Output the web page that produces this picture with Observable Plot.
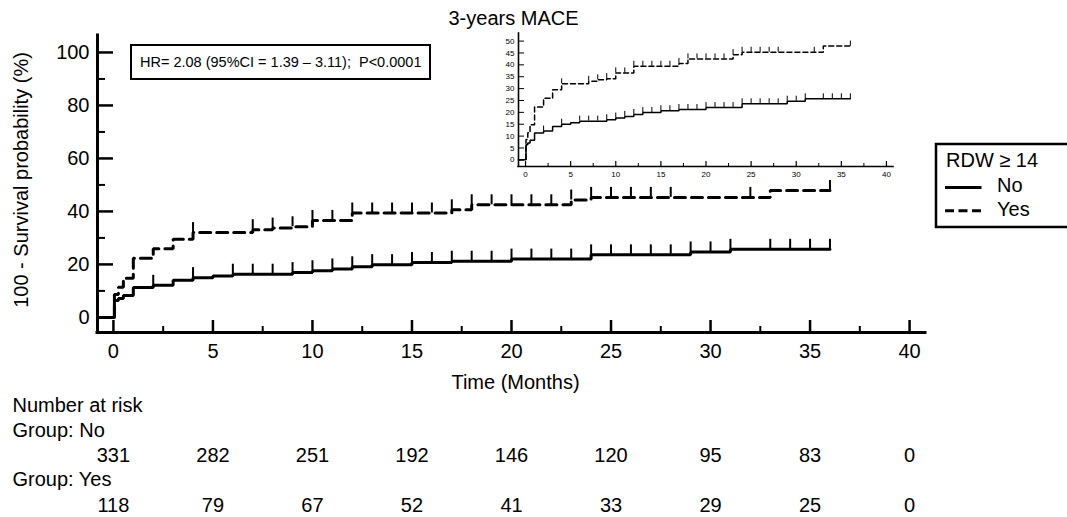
<!DOCTYPE html>
<html>
<head>
<meta charset="utf-8">
<script src="https://cdn.jsdelivr.net/npm/d3@7"></script>
<script src="https://cdn.jsdelivr.net/npm/@observablehq/plot@0.6"></script>
<style>
html, body { margin: 0; padding: 0; background: #fff; }
#wrap { position: relative; width: 1067px; height: 517px; overflow: hidden; background: #fff;
        font-family: "Liberation Sans", Arial, sans-serif; color: #000; }
#wrap svg { position: absolute; }
</style>
</head>
<body>
<div id="wrap"></div>
<script>
// ---------------- data ----------------
const title = "3-years MACE";
const yLabel = "100 - Survival probability (%)";
const xLabel = "Time (Months)";
const hrText = "HR= 2.08 (95%CI = 1.39 \u2013 3.11);  P<0.0001";
const legendTitle = "RDW \u2265 14";
const groups = ["No", "Yes"];

// Group "No" (solid): step times and cumulative event rate (100 - survival, %)
const timesNo  = [0, 0.05, 0.25, 0.5, 1, 2, 3, 4, 5, 6, 9, 10, 11, 12, 13, 15, 17, 20, 24, 29, 31, 36];
const valuesNo = [0, 6.4, 7.1, 8.3, 11.3, 12.1, 14.0, 15.0, 15.6, 16.3, 16.9, 17.6, 18.3, 19.1, 19.9, 20.7, 21.2, 22.0, 23.6, 24.7, 25.7, 25.7];
const censorNo = [2, 4, 6, 7, 8, 9, 10, 11, 12, 13, 14, 15, 16, 17, 18, 19, 20, 21, 22, 23, 24, 25, 26, 27, 28, 29, 30, 31, 33, 34, 35, 36];

// Group "Yes" (dashed)
const timesYes  = [0, 0.05, 0.25, 0.5, 1, 2, 3, 4, 7, 8, 9, 10, 12, 17, 18, 23, 24, 33, 36];
const valuesYes = [0, 8.6, 11.4, 14.8, 22.3, 25.9, 29.5, 32.0, 33.1, 33.7, 34.2, 36.6, 39.4, 40.6, 42.5, 44.3, 45.3, 47.9, 47.9];
const censorYes = [4, 7, 8, 9, 10, 11, 12, 13, 14, 15, 16, 17, 18, 19, 20, 21, 22, 23, 24, 25, 26, 27, 28, 32, 36];

// axes
const xTicks = [0, 5, 10, 15, 20, 25, 30, 35, 40];
const xMinorTicks = [2.5, 7.5, 12.5, 17.5, 22.5, 27.5, 32.5, 37.5];
const yTicks = [0, 20, 40, 60, 80, 100];
const yMinorTicks = [10, 30, 50, 70, 90];
const insetXTicks = [0, 5, 10, 15, 20, 25, 30, 35, 40];
const insetXMinorTicks = [2.5, 7.5, 12.5, 17.5, 22.5, 27.5, 32.5, 37.5];
const insetYTicks = [0, 5, 10, 15, 20, 25, 30, 35, 40, 45, 50];

// number at risk
const riskHeader = "Number at risk";
const riskLabels = ["Group: No", "Group: Yes"];
const riskTimes = [0, 5, 10, 15, 20, 25, 30, 35, 40];
const riskNo  = [331, 282, 251, 192, 146, 120, 95, 83, 0];
const riskYes = [118, 79, 67, 52, 41, 33, 29, 25, 0];

// ---------------- layout ----------------
const W = 1067, H = 517;
const FONT = '"Liberation Sans", Arial, sans-serif';
const main = {left: 97, right: 925, top: 35, bottom: 332};
const xDom = [-0.8, 40.8], yDom = [-5.7, 106.4];
const kx = (main.right - main.left) / (xDom[1] - xDom[0]);
const ky = (main.bottom - main.top) / (yDom[1] - yDom[0]);

const inset = {boxLeft: 490, boxTop: 20, boxW: 410, boxH: 165, left: 518, right: 893, top: 33, bottom: 166};
const ixDom = [-0.78, 40.78], iyDom = [-2.8, 53.2];
const ikx = (inset.right - inset.left) / (ixDom[1] - ixDom[0]);
const iky = (inset.bottom - inset.top) / (iyDom[1] - iyDom[0]);

function curveData(times, values, x0) {
  return [{t: x0, v: values[0]}].concat(times.map((t, i) => ({t, v: values[i]})));
}
function stepAt(times, values, t) {
  const i = d3.bisectRight(times, t) - 1;
  return values[Math.max(0, i)];
}
function censorData(times, values, cs) {
  return cs.map(t => ({t, v: stepAt(times, values, t)}));
}

const wrap = document.getElementById("wrap");

// ---------------- main plot ----------------
const noMain = curveData(timesNo, valuesNo, xDom[0]);
const yesMain = curveData(timesYes, valuesYes, xDom[0]);
const cNo = censorData(timesNo, valuesNo, censorNo);
const cYes = censorData(timesYes, valuesYes, censorYes);

const mainPlot = Plot.plot({
  width: W, height: H,
  marginLeft: main.left, marginRight: W - main.right, marginTop: main.top, marginBottom: H - main.bottom,
  x: {domain: xDom},
  y: {domain: yDom},
  style: {background: "transparent", fontFamily: FONT, color: "#000", overflow: "visible"},
  marks: [
    // axis lines
    Plot.ruleY([yDom[0]], {x1: xDom[0], x2: xDom[1], stroke: "#000", strokeWidth: 3, strokeLinecap: "square"}),
    Plot.ruleX([xDom[0]], {y1: yDom[0], y2: yDom[1], stroke: "#000", strokeWidth: 3, strokeLinecap: "square"}),
    // inward ticks
    Plot.ruleY(yTicks, {y: d => d, x1: xDom[0], x2: xDom[0] + 16 / kx, stroke: "#000", strokeWidth: 2.5}),
    Plot.ruleY(yMinorTicks, {y: d => d, x1: xDom[0], x2: xDom[0] + 8 / kx, stroke: "#000", strokeWidth: 2}),
    Plot.ruleX(xTicks, {x: d => d, y1: yDom[0], y2: yDom[0] + 12 / ky, stroke: "#000", strokeWidth: 2.5}),
    Plot.ruleX(xMinorTicks, {x: d => d, y1: yDom[0], y2: yDom[0] + 6 / ky, stroke: "#000", strokeWidth: 2}),
    // tick labels
    Plot.axisX({ticks: xTicks, tickSize: 0, tickPadding: 11, fontSize: 20, label: null}),
    Plot.axisY({ticks: yTicks, tickSize: 0, tickPadding: 8, fontSize: 20, label: null}),
    // curves
    Plot.line(noMain, {x: "t", y: "v", curve: "step-after", stroke: "#000", strokeWidth: 3, strokeLinejoin: "miter"}),
    Plot.line(yesMain, {x: "t", y: "v", curve: "step-after", stroke: "#000", strokeWidth: 3, strokeDasharray: "11,6", strokeLinejoin: "miter"}),
    // censor marks
    Plot.ruleX(cNo, {x: "t", y1: "v", y2: d => d.v + 10 / ky, stroke: "#000", strokeWidth: 2}),
    Plot.ruleX(cYes, {x: "t", y1: "v", y2: d => d.v + 10 / ky, stroke: "#000", strokeWidth: 2}),
    // titles
    Plot.text([title], {text: d => d, frameAnchor: "top", textAnchor: "middle", lineAnchor: "bottom", dx: 2, dy: -11, fontSize: 20}),
    Plot.text([xLabel], {text: d => d, frameAnchor: "bottom", textAnchor: "middle", lineAnchor: "bottom", dx: 4, dy: 56, fontSize: 20}),
    Plot.text([yLabel], {text: d => d, frameAnchor: "left", textAnchor: "middle", rotate: -90, lineAnchor: "middle", dx: -76, dy: -4, fontSize: 20}),
    // number at risk table
    Plot.text([riskHeader], {text: d => d, frameAnchor: "bottom-left", textAnchor: "start", lineAnchor: "bottom", dx: -85, dy: 79.5, fontSize: 20}),
    Plot.text([riskLabels[0]], {text: d => d, frameAnchor: "bottom-left", textAnchor: "start", lineAnchor: "bottom", dx: -85, dy: 104, fontSize: 20}),
    Plot.text(riskTimes, {x: d => d, text: (d, i) => String(riskNo[i]), frameAnchor: "bottom", textAnchor: "middle", lineAnchor: "bottom", dy: 129.5, fontSize: 20}),
    Plot.text([riskLabels[1]], {text: d => d, frameAnchor: "bottom-left", textAnchor: "start", lineAnchor: "bottom", dx: -85, dy: 153, fontSize: 20}),
    Plot.text(riskTimes, {x: d => d, text: (d, i) => String(riskYes[i]), frameAnchor: "bottom", textAnchor: "middle", lineAnchor: "bottom", dy: 179.5, fontSize: 20})
  ]
});
mainPlot.style.left = "0px";
mainPlot.style.top = "0px";
wrap.appendChild(mainPlot);

// ---------------- inset ----------------
const noInset = curveData(timesNo, valuesNo, ixDom[0]);
const yesInset = curveData(timesYes, valuesYes, ixDom[0]);

const insetPlot = Plot.plot({
  width: inset.boxW, height: inset.boxH,
  marginLeft: inset.left - inset.boxLeft,
  marginRight: inset.boxLeft + inset.boxW - inset.right,
  marginTop: inset.top - inset.boxTop,
  marginBottom: inset.boxTop + inset.boxH - inset.bottom,
  x: {domain: ixDom},
  y: {domain: iyDom},
  style: {background: "transparent", fontFamily: FONT, color: "#000", overflow: "visible"},
  marks: [
    Plot.ruleY([iyDom[0]], {x1: ixDom[0], x2: ixDom[1], stroke: "#000", strokeWidth: 1.6, strokeLinecap: "square"}),
    Plot.ruleX([ixDom[0]], {y1: iyDom[0], y2: iyDom[1], stroke: "#000", strokeWidth: 1.6, strokeLinecap: "square"}),
    Plot.ruleY(insetYTicks, {y: d => d, x1: ixDom[0], x2: ixDom[0] + 6 / ikx, stroke: "#000", strokeWidth: 1}),
    Plot.ruleX(insetXTicks, {x: d => d, y1: iyDom[0], y2: iyDom[0] + 5 / iky, stroke: "#000", strokeWidth: 1.2}),
    Plot.ruleX(insetXMinorTicks, {x: d => d, y1: iyDom[0], y2: iyDom[0] + 3 / iky, stroke: "#000", strokeWidth: 1}),
    Plot.axisX({ticks: insetXTicks, tickSize: 0, tickPadding: 5, fontSize: 8, label: null}),
    Plot.axisY({ticks: insetYTicks, tickSize: 0, tickPadding: 4, fontSize: 8, label: null}),
    Plot.line(noInset, {x: "t", y: "v", curve: "step-after", stroke: "#000", strokeWidth: 1.5, strokeLinejoin: "miter"}),
    Plot.line(yesInset, {x: "t", y: "v", curve: "step-after", stroke: "#000", strokeWidth: 1.5, strokeDasharray: "5,3", strokeLinejoin: "miter"}),
    Plot.ruleX(cNo, {x: "t", y1: "v", y2: d => d.v + 5 / iky, stroke: "#000", strokeWidth: 1}),
    Plot.ruleX(cYes, {x: "t", y1: "v", y2: d => d.v + 5 / iky, stroke: "#000", strokeWidth: 1})
  ]
});
insetPlot.style.left = inset.boxLeft + "px";
insetPlot.style.top = inset.boxTop + "px";
wrap.appendChild(insetPlot);

// ---------------- annotations: HR box and legend ----------------
const ann = d3.select(wrap).append("svg")
  .attr("width", W).attr("height", H)
  .style("left", "0px").style("top", "0px")
  .style("font-family", FONT);

// HR box
ann.append("rect").attr("x", 131).attr("y", 45).attr("width", 299).attr("height", 34)
  .attr("fill", "none").attr("stroke", "#000").attr("stroke-width", 2);
ann.append("text").attr("x", 140).attr("y", 67).attr("font-size", 14.5).attr("fill", "#000")
  .attr("xml:space", "preserve").style("white-space", "pre").text(hrText);

// legend
const lg = ann.append("g").attr("transform", "translate(936,144)");
lg.append("rect").attr("x", 0).attr("y", 0).attr("width", 150).attr("height", 83)
  .attr("fill", "#fff").attr("stroke", "#000").attr("stroke-width", 2.5);
lg.append("text").attr("x", 10).attr("y", 22.5).attr("font-size", 20).attr("fill", "#000").text(legendTitle);
const dashes = {No: null, Yes: "9,4.5"};
groups.forEach((g, i) => {
  const yy = 43.5 + i * 23.2;
  lg.append("line").attr("x1", 9).attr("x2", 45.5).attr("y1", yy).attr("y2", yy)
    .attr("stroke", "#000").attr("stroke-width", 3).attr("stroke-dasharray", dashes[g]);
  lg.append("text").attr("x", 61).attr("y", yy + 4.7 + i * 0.3).attr("font-size", 20).attr("fill", "#000").text(g);
});
</script>
</body>
</html>
